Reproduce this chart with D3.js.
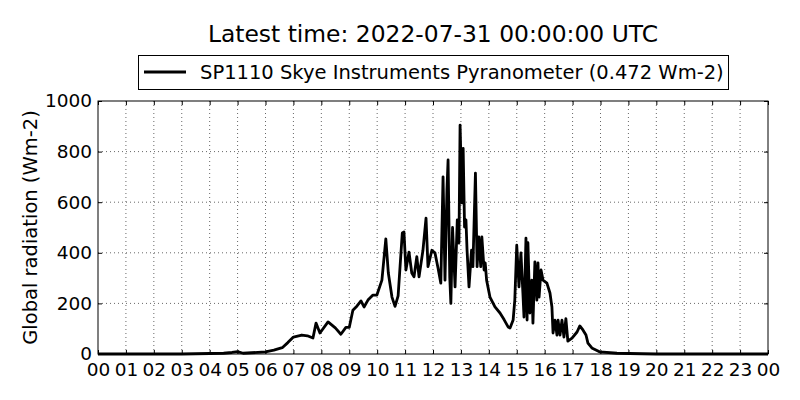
<!DOCTYPE html>
<head>
  <meta charset="utf-8">
  <script src="https://d3js.org/d3.v7.min.js"></script>
  <style>
    body { margin: 0; background: #fff; }
    svg { width: 800px; height: 400px; font-family: 'DejaVu Sans', sans-serif; }
  </style>
</head>

<body>
  <svg></svg>

  <script>
    const width = 800;
    const height = 400;
    const margin = {top: 101, right: 32, bottom: 46, left: 98};

    // decimal hours of the day (UTC) and global radiation (Wm-2)
    const hours = [
      0, 1, 2, 3, 3.5, 4, 4.5, 4.8, 5.0, 5.2, 5.5, 6.0, 6.3, 6.6, 6.8, 7.0,
      7.3, 7.5, 7.7, 7.81, 7.95, 8.24, 8.5, 8.7, 8.88, 9.0, 9.13, 9.28, 9.42, 9.53,
      9.67, 9.85, 9.99, 10.17, 10.31, 10.4, 10.53, 10.64, 10.75, 10.9, 10.96, 11.03,
      11.14, 11.24, 11.32, 11.42, 11.5, 11.64, 11.75, 11.82, 11.96, 12.07, 12.18,
      12.28, 12.36, 12.43, 12.5, 12.54, 12.6, 12.64, 12.7, 12.79, 12.87, 12.93,
      12.97, 13.04, 13.08, 13.13, 13.18, 13.22, 13.29, 13.38, 13.43, 13.52, 13.58,
      13.64, 13.71, 13.75, 13.83, 13.87, 13.92, 14.04, 14.22, 14.4, 14.55, 14.69,
      14.76, 14.87, 14.93, 15.0, 15.08, 15.15, 15.22, 15.26, 15.33, 15.37, 15.4,
      15.47, 15.54, 15.58, 15.65, 15.72, 15.76, 15.8, 15.87, 15.94, 16.08, 16.19,
      16.26, 16.3, 16.37, 16.44, 16.48, 16.55, 16.62, 16.69, 16.76, 16.83, 16.98,
      17.16, 17.26, 17.37, 17.48, 17.55, 17.69, 17.98, 18.59, 19.5, 20, 24
    ];
    const radiation = [
      0, 0, 0, 0, 1, 2, 3, 6, 9, 3, 5, 8, 15, 25, 45, 67,
      75, 72, 63, 122, 83, 127, 103, 78, 105, 105, 173, 190, 210, 186,
      213, 233, 233, 292, 455, 320, 225, 188, 230, 478, 482, 332,
      403, 320, 305, 385, 305, 410, 537, 345, 410, 400, 340,
      280, 700, 292, 650, 767, 305, 200, 500, 265, 530, 438,
      905, 597, 813, 502, 530, 410, 265, 410, 345, 715, 345,
      463, 345, 463, 332, 360, 292, 225, 186, 162, 135, 107,
      103, 134, 213, 430, 265, 400, 241, 146, 458, 134, 440,
      162, 292, 122, 364, 213, 360, 225, 332, 292, 280, 241,
      186, 83, 134, 75, 134, 75, 134, 67, 140, 51, 63,
      87, 111, 95, 75, 43, 24, 8, 3, 1, 0, 0
    ];
    const xTicks = d3.range(0, 25);
    const yTicks = [0, 200, 400, 600, 800, 1000];

    const title = 'Latest time: 2022-07-31 00:00:00 UTC';
    const seriesName = 'SP1110 Skye Instruments Pyranometer (0.472 Wm-2)';
    const yLabel = 'Global radiation (Wm-2)';

    const data = hours.map((h, i) => ({hour: h, value: radiation[i]}));

    const svg = d3.select('svg');
    const plotW = width - margin.left - margin.right;
    const plotH = height - margin.top - margin.bottom;

    const x = d3.scaleLinear().domain([0, 24]).range([margin.left, margin.left + plotW]);
    const y = d3.scaleLinear().domain([0, 1000]).range([margin.top + plotH, margin.top]);

    /*****************************************************
    ** grid
    ******************************************************/
    const grid = svg.append('g').attr('stroke', '#000').attr('stroke-width', 0.6)
      .attr('stroke-dasharray', '1,3');
    grid.selectAll('.vx').data(xTicks.slice(1, -1)).enter().append('line')
      .attr('x1', d => x(d)).attr('x2', d => x(d))
      .attr('y1', margin.top).attr('y2', margin.top + plotH);
    grid.selectAll('.hy').data(yTicks.slice(1, -1)).enter().append('line')
      .attr('x1', margin.left).attr('x2', margin.left + plotW)
      .attr('y1', d => y(d)).attr('y2', d => y(d));

    /*****************************************************
    ** data line
    ******************************************************/
    const line = d3.line().x(d => x(d.hour)).y(d => y(d.value));
    svg.append('path').datum(data)
      .attr('d', line)
      .attr('fill', 'none')
      .attr('stroke', '#000')
      .attr('stroke-width', 2.8)
      .attr('stroke-linejoin', 'round');

    /*****************************************************
    ** axes (ticks inward, on all four sides)
    ******************************************************/
    const fmtHour = d => d3.format('02d')(d % 24);
    const axisB = d3.axisBottom(x).tickValues(xTicks).tickFormat(fmtHour).tickSizeInner(-4).tickSizeOuter(0).tickPadding(9);
    const axisT = d3.axisTop(x).tickValues(xTicks).tickFormat('').tickSizeInner(-4).tickSizeOuter(0);
    const axisL = d3.axisLeft(y).tickValues(yTicks).tickFormat(d3.format('d')).tickSizeInner(-4).tickSizeOuter(0).tickPadding(6);
    const axisR = d3.axisRight(y).tickValues(yTicks).tickFormat('').tickSizeInner(-4).tickSizeOuter(0);

    const axes = [
      svg.append('g').attr('transform', `translate(0,${margin.top + plotH})`).call(axisB),
      svg.append('g').attr('transform', `translate(0,${margin.top})`).call(axisT),
      svg.append('g').attr('transform', `translate(${margin.left},0)`).call(axisL),
      svg.append('g').attr('transform', `translate(${margin.left + plotW},0)`).call(axisR)
    ];
    axes.forEach(a => {
      a.select('.domain').remove();
      a.selectAll('text').attr('font-size', 18.5).attr('fill', '#000')
        .attr('font-family', "'DejaVu Sans', sans-serif");
      a.selectAll('line').attr('stroke', '#000');
    });

    svg.append('rect')
      .attr('x', margin.left).attr('y', margin.top)
      .attr('width', plotW).attr('height', plotH)
      .attr('fill', 'none').attr('stroke', '#000').attr('stroke-width', 1);

    /*****************************************************
    ** title, legend, y label
    ******************************************************/
    svg.append('text')
      .attr('x', margin.left + plotW / 2).attr('y', 42)
      .attr('text-anchor', 'middle').attr('font-size', 23.4)
      .text(title);

    const legend = svg.append('g');
    legend.append('rect')
      .attr('x', 138.5).attr('y', 55.5).attr('width', 590).attr('height', 34)
      .attr('fill', '#fff').attr('stroke', '#000').attr('stroke-width', 1);
    legend.append('line')
      .attr('x1', 144).attr('x2', 186).attr('y1', 72).attr('y2', 72)
      .attr('stroke', '#000').attr('stroke-width', 2.8);
    legend.append('text')
      .attr('x', 200).attr('y', 79).attr('font-size', 19.5)
      .text(seriesName);

    svg.append('text')
      .attr('transform', `translate(37,${margin.top + plotH / 2}) rotate(-90)`)
      .attr('text-anchor', 'middle').attr('font-size', 19.5)
      .text(yLabel);
  </script>
</body>
